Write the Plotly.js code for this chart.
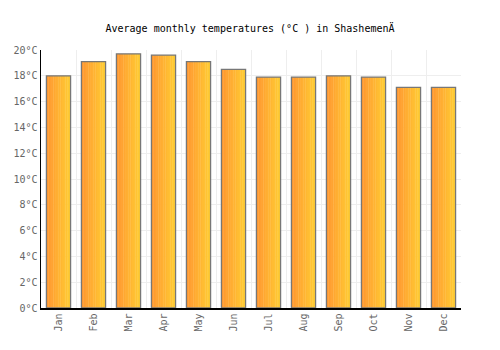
<!DOCTYPE html>
<html>
<head>
<meta charset="utf-8">
<script src="https://cdn.plot.ly/plotly-3.0.1.min.js"></script>
<style>html,body{margin:0;padding:0;background:#fff;}#chart{width:500px;height:350px;}</style>
</head>
<body>
<div id="chart"></div>
<script>
const months = ["Jan","Feb","Mar","Apr","May","Jun","Jul","Aug","Sep","Oct","Nov","Dec"];
const temps = [18.0, 19.1, 19.7, 19.6, 19.1, 18.5, 17.9, 17.9, 18.0, 17.9, 17.1, 17.1];
const yTickVals = [0,2,4,6,8,10,12,14,16,18,20];
const yTickText = yTickVals.map(v => v + "°C");

const barW = 0.69;
const N = 14;
const c0 = [255,152,48], c1 = [255,204,52];
const traces = [];
for (let i = 0; i < N; i++) {
  const t = i / (N - 1);
  const col = `rgb(${Math.round(c0[0]+(c1[0]-c0[0])*t)},${Math.round(c0[1]+(c1[1]-c0[1])*t)},${Math.round(c0[2]+(c1[2]-c0[2])*t)})`;
  traces.push({
    type: "bar", x: months, y: temps,
    width: barW / N + 0.01,
    offset: -barW / 2 + i * barW / N,
    marker: {color: col, line: {width: 0}},
    hoverinfo: "skip", showlegend: false
  });
}
traces.push({
  type: "bar", x: months, y: temps,
  width: barW, offset: -barW / 2,
  marker: {color: "rgba(0,0,0,0)", line: {color: "#777777", width: 1.3}},
  showlegend: false
});

const layout = {
  width: 500, height: 350,
  margin: {l: 41, r: 39, t: 50, b: 42},
  paper_bgcolor: "#fff", plot_bgcolor: "#fff",
  barmode: "overlay",
  title: {text: "Average monthly temperatures (°C ) in ShashemenÄ", x: 0.5, xanchor: "center", y: 0.918, yanchor: "middle",
          font: {family: "DejaVu Sans Mono", size: 10, color: "#000"}},
  xaxis: {
    type: "category", tickson: "boundaries", range: [-0.5, 11.5],
    showgrid: true, gridcolor: "#eeeeee", gridwidth: 1,
    showline: true, linecolor: "#000", linewidth: 1.5,
    ticks: "", tickangle: -90,
    tickfont: {family: "DejaVu Sans Mono", size: 10, color: "#666"},
    fixedrange: true
  },
  yaxis: {
    range: [0, 20], tickvals: yTickVals, ticktext: yTickText,
    showgrid: true, gridcolor: "#eeeeee", gridwidth: 1,
    showline: true, linecolor: "#000", linewidth: 1.5,
    zeroline: false, ticks: "",
    tickfont: {family: "DejaVu Sans Mono", size: 10, color: "#666"},
    fixedrange: true
  }
};
Plotly.newPlot("chart", traces, layout, {displayModeBar: false, staticPlot: true});
</script>
</body>
</html>
